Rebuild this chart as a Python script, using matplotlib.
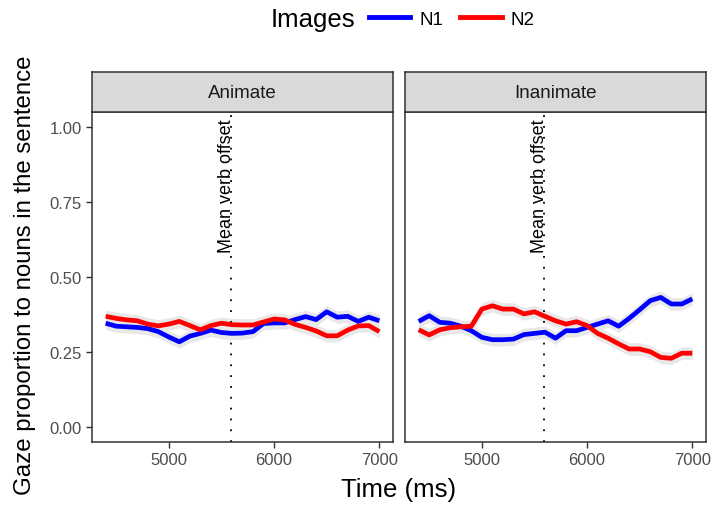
import matplotlib.pyplot as plt
from matplotlib.lines import Line2D
import numpy as np

plt.rcParams['font.family'] = ['Liberation Sans', 'DejaVu Sans']

# time bins (ms)
time_ms = list(range(4400, 7001, 100))

# Animate panel
animate_n1 = [0.346, 0.336, 0.334, 0.332, 0.328, 0.318, 0.300, 0.284, 0.303, 0.312,
              0.323, 0.315, 0.312, 0.313, 0.318, 0.345, 0.347, 0.347, 0.358, 0.368,
              0.358, 0.384, 0.366, 0.369, 0.352, 0.366, 0.354]
animate_n2 = [0.369, 0.362, 0.357, 0.354, 0.343, 0.337, 0.343, 0.352, 0.338, 0.324,
              0.338, 0.346, 0.341, 0.340, 0.340, 0.350, 0.360, 0.357, 0.342, 0.332,
              0.320, 0.304, 0.304, 0.323, 0.337, 0.338, 0.318]

# Inanimate panel
inanimate_n1 = [0.352, 0.371, 0.349, 0.346, 0.336, 0.321, 0.299, 0.291, 0.291, 0.293,
                0.308, 0.312, 0.316, 0.296, 0.321, 0.321, 0.332, 0.343, 0.354, 0.336,
                0.362, 0.391, 0.421, 0.432, 0.410, 0.410, 0.427]
inanimate_n2 = [0.324, 0.307, 0.324, 0.331, 0.334, 0.336, 0.393, 0.404, 0.393, 0.393,
                0.377, 0.384, 0.369, 0.354, 0.343, 0.351, 0.338, 0.312, 0.296, 0.277,
                0.260, 0.260, 0.251, 0.232, 0.229, 0.246, 0.246]

ci_half = 0.021
verb_offset = 5590
panels = ['Animate', 'Inanimate']
series = {'Animate': (animate_n1, animate_n2), 'Inanimate': (inanimate_n1, inanimate_n2)}
colors = {'N1': '#0000ff', 'N2': '#ff0000'}

W, H = 714, 506
fig = plt.figure(figsize=(W / 100, H / 100), dpi=100)

lefts = [92, 405]
pw = 301
ptop, pbot = 113, 443
strip_top = 73

x = np.array(time_ms)
for i, name in enumerate(panels):
    ax = fig.add_axes([lefts[i] / W, (H - pbot) / H, pw / W, (pbot - ptop) / H])
    n1, n2 = series[name]
    for vals in (n1, n2):
        v = np.array(vals)
        ax.fill_between(x, v - ci_half, v + ci_half, color='#e8e8e8', lw=0, zorder=1)
    ax.plot(x, n1, color=colors['N1'], lw=3.4, zorder=3, solid_capstyle='butt')
    ax.plot(x, n2, color=colors['N2'], lw=3.4, zorder=3, solid_capstyle='butt')
    ax.axvline(verb_offset, color='black', lw=1.3, linestyle=(0, (1, 5)), zorder=2)
    ax.text(5550, 0.805, 'Mean verb offset', rotation=90, ha='center', va='center',
            fontsize=13, color='black', zorder=4)
    ax.set_xlim(4270, 7130)
    ax.set_ylim(-0.05, 1.05)
    ax.set_xticks([5000, 6000, 7000])
    ax.set_yticks([0, 0.25, 0.5, 0.75, 1.0])
    ax.tick_params(axis='both', colors='#333333', labelcolor='#4d4d4d',
                   labelsize=12, length=4, width=1)
    if i == 0:
        ax.set_yticklabels(['0.00', '0.25', '0.50', '0.75', '1.00'])
    else:
        ax.tick_params(axis='y', left=False, labelleft=False)
    for sp in ax.spines.values():
        sp.set_color('#333333')
        sp.set_linewidth(1.1)

    # facet strip
    sax = fig.add_axes([lefts[i] / W, (H - ptop) / H, pw / W, (ptop - strip_top) / H])
    sax.set_facecolor('#d9d9d9')
    sax.set_xticks([])
    sax.set_yticks([])
    for sp in sax.spines.values():
        sp.set_color('#333333')
        sp.set_linewidth(1.1)
    sax.text(0.5, 0.5, name, ha='center', va='center', fontsize=13.5,
             color='#1a1a1a', transform=sax.transAxes)

fig.text(399 / W, 1 - 490 / H, 'Time (ms)', ha='center', va='center', fontsize=18.5)
fig.text(25 / W, 1 - 275 / H, 'Gaze proportion to nouns in the sentence',
         rotation=90, ha='center', va='center', fontsize=17.3)

# legend
fig.text(313 / W, 1 - 20 / H, 'Images', ha='center', va='center', fontsize=18.5)
handles = [Line2D([], [], color=colors['N1'], lw=3.5),
           Line2D([], [], color=colors['N2'], lw=3.5)]
fig.legend(handles, ['N1', 'N2'], ncol=2, frameon=False, loc='center left',
           bbox_to_anchor=(369 / W, 1 - 20 / H), fontsize=13.5, handlelength=2.2,
           handletextpad=0.5, columnspacing=0.9, borderpad=0, borderaxespad=0)

fig.savefig('out.png', dpi=100)
